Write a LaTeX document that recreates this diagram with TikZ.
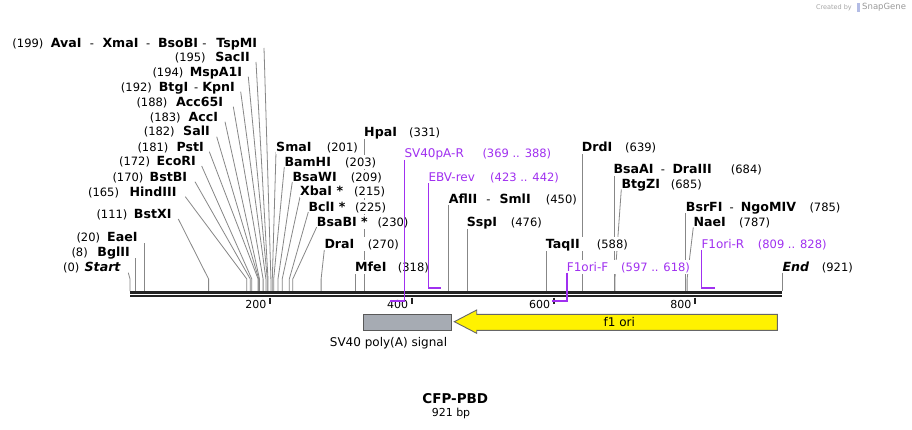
\documentclass[tikz,border=0pt]{standalone}
\usepackage{fontspec}
\setmainfont{DejaVu Sans}
\definecolor{prim}{RGB}{160,48,240}
\definecolor{cline}{RGB}{135,135,135}
\definecolor{featgray}{RGB}{166,171,179}
\definecolor{bardark}{RGB}{34,34,34}
\newcommand\enz[1]{{\fontsize{12.6}{15}\selectfont\bfseries #1}}
\newcommand\enzi[1]{{\fontsize{12.6}{15}\selectfont\bfseries\itshape #1}}
\newcommand\bpn[1]{{\fontsize{11.5}{13}\selectfont #1}}
\newcommand\prm[1]{{\fontsize{12}{14}\selectfont #1}}
% box of given width, left aligned / right aligned
\newcommand\bl[2]{\makebox[#1pt][l]{#2}}
\newcommand\br[2]{\makebox[#1pt][r]{#2}}
% a name followed by a dash, in a box of given width
\newcommand\nd[2]{\makebox[#1pt][l]{\enz{#2}\hspace{3pt}\hfill\bpn{-}\hspace{3pt}\hfill}}
\tikzset{
  lbl/.style={fill=white, inner xsep=0pt, inner ysep=0.5pt, text height=11pt, text depth=2.2pt},
  plbl/.style={lbl, text=prim},
  cut/.style={draw=cline, line width=0.8pt},
  primer/.style={draw=prim, line width=1.6pt},
  seqline/.style={draw=bardark},
  tickmark/.style={draw=bardark, line width=1.8pt},
  ticklbl/.style={font=\fontsize{11}{13}\selectfont, inner sep=0pt, anchor=east},
  feattxt/.style={font=\fontsize{12}{14}\selectfont, inner sep=0pt}
}
\begin{document}
\begin{tikzpicture}[x=1pt,y=-1pt]
\useasboundingbox (0,0) rectangle (912,430);
\fill[white] (0,0) rectangle (912,430);

% ---------- site coordinates on the sequence (top of bar) ----------
\foreach \n/\x in {0/130,8/135.7,20/144.2,111/208.6,165/246.8,170/250.3,172/251.8,181/258.1,182/258.8,183/259.5,188/263.1,192/265.9,194/267.3,195/268.0,199/270.9,201/272.3,203/273.7,209/278.0,215/282.2,225/289.3,230/292.8,270/321.1,318/355.1,331/364.3,450/448.6,476/467,588/546.3,639/582.4,684/614.2,685/614.9,785/685.7,787/687.1,921/782}{
  \coordinate (s\n) at (\x,291);
  \coordinate (k\n) at (\x,279);
}

% ---------- line start coordinates ----------
\coordinate (t199) at (264,48);
\coordinate (t195) at (256,62);
\coordinate (t194) at (248.3,76.7);
\coordinate (t192) at (240.7,91.7);
\coordinate (t188) at (233.3,106.7);
\coordinate (t183) at (225,121.7);
\coordinate (t182) at (216.7,136.7);
\coordinate (t181) at (209.3,151.7);
\coordinate (t172) at (201.7,166);
\coordinate (t170) at (195,181.7);
\coordinate (t165) at (185.3,196.7);
\coordinate (t111) at (178.3,219);
\coordinate (t20) at (144.2,243.3);
\coordinate (t8) at (135.7,258.3);
\coordinate (t0) at (128.3,272.7);
\coordinate (t201) at (276,152);
\coordinate (t203) at (284.3,167);
\coordinate (t209) at (292.3,182);
\coordinate (t215) at (300,197);
\coordinate (t225) at (308.3,212);
\coordinate (t230) at (316.7,227);
\coordinate (t270) at (324.3,250);
\coordinate (t318) at (355.1,272);
\coordinate (t331) at (364.3,138);
\coordinate (t450) at (448.6,205);
\coordinate (t476) at (467,228);
\coordinate (t588) at (546.3,250);
\coordinate (t639) at (582.4,152.7);
\coordinate (t684) at (614.2,175);
\coordinate (t685) at (621.3,189.3);
\coordinate (t785) at (685.7,213);
\coordinate (t787) at (693.3,227.3);
\coordinate (t921) at (782,272.7);

% ---------- enzyme connector lines ----------
\foreach \n in {199,195,194,192,188,183,182,181,172,170,165,111,0,201,203,209,215,225,230,270,685,787}{
  \draw[cut] (t\n) -- (k\n) -- (s\n);
}
\foreach \n in {20,8,318,331,450,476,588,639,684,785,921}{
  \draw[cut] (t\n) -- (s\n);
}

% ---------- sequence bar ----------
\coordinate (barL1) at (130,292.3);
\coordinate (barR1) at (782,292.3);
\coordinate (barL2) at (130,296.4);
\coordinate (barR2) at (782,296.4);
\draw[seqline, line width=2.6pt] (barL1) -- (barR1);
\draw[seqline, line width=2pt] (barL2) -- (barR2);

% ---------- scale ticks ----------
\foreach \v/\x in {200/270,400/411.7,600/553.7,800/695}{
  \coordinate (tk\v a) at (\x,297.5);
  \coordinate (tk\v b) at (\x,304);
  \draw[tickmark] (tk\v a) -- (tk\v b);
  \node[ticklbl] (tl\v) at (\x-3.5,304.5) {\v};
}

% ---------- left labels ----------
\node[lbl, anchor=east] (avai) at (257.3,43.3) {\bl{38.3}{\bpn{(199)}}\nd{51.7}{AvaI}\nd{55.6}{XmaI}\nd{52.4}{BsoBI}\br{46.6}{\enz{TspMI}}};
\node[lbl, anchor=east] (sacii) at (250,57.3) {\bl{38.3}{\bpn{(195)}}\br{36.7}{\enz{SacII}}};
\node[lbl, anchor=east] (mspa) at (242.3,72) {\bl{40}{\bpn{(194)}}\br{49.6}{\enz{MspA1I}}};
\node[lbl, anchor=east] (btgi) at (235,87.3) {\bpn{(192)}\hspace{7pt}\enz{BtgI}\hspace{6pt}\bpn{-}\hspace{4pt}\enz{KpnI}};
\node[lbl, anchor=east] (acc65) at (223.3,101.7) {\bl{39.3}{\bpn{(188)}}\br{47.3}{\enz{Acc65I}}};
\node[lbl, anchor=east] (acci) at (218.3,116.7) {\bl{39.3}{\bpn{(183)}}\br{29}{\enz{AccI}}};
\node[lbl, anchor=east] (sali) at (210,131) {\bl{39.3}{\bpn{(182)}}\br{26.7}{\enz{SalI}}};
\node[lbl, anchor=east] (psti) at (204,146.7) {\bl{39}{\bpn{(181)}}\br{27.3}{\enz{PstI}}};
\node[lbl, anchor=east] (ecori) at (196,161.3) {\bl{38}{\bpn{(172)}}\br{38.7}{\enz{EcoRI}}};
\node[lbl, anchor=east] (bstbi) at (187.3,176.7) {\bl{39}{\bpn{(170)}}\br{35.6}{\enz{BstBI}}};
\node[lbl, anchor=east] (hind) at (176.7,192.3) {\bl{39}{\bpn{(165)}}\br{49.4}{\enz{HindIII}}};
\node[lbl, anchor=east] (bstxi) at (171.7,214) {\bl{38.3}{\bpn{(111)}}\br{36.7}{\enz{BstXI}}};
\node[lbl, anchor=east] (eaei) at (137.7,237.3) {\bl{31.6}{\bpn{(20)}}\br{29.4}{\enz{EaeI}}};
\node[lbl, anchor=east] (bglii) at (130,251.7) {\bl{25}{\bpn{(8)}}\br{33.3}{\enz{BglII}}};
\node[lbl, anchor=east] (startl) at (120.7,266.7) {\bl{25}{\bpn{(0)}}\br{32.4}{\enzi{Start}}};

% ---------- right labels ----------
\node[lbl, anchor=west] (smai) at (276,147.3) {\bl{50.7}{\enz{SmaI}}\bpn{(201)}};
\node[lbl, anchor=west] (bamhi) at (284.3,161.7) {\bl{60.7}{\enz{BamHI}}\bpn{(203)}};
\node[lbl, anchor=west] (bsawi) at (292.3,176.7) {\bl{58.4}{\enz{BsaWI}}\bpn{(209)}};
\node[lbl, anchor=west] (xbai) at (300,191) {\bl{54}{\enz{XbaI *}}\bpn{(215)}};
\node[lbl, anchor=west] (bcli) at (308.3,206.7) {\bl{46.7}{\enz{BclI *}}\bpn{(225)}};
\node[lbl, anchor=west] (bsabi) at (316.7,222) {\bl{60.6}{\enz{BsaBI *}}\bpn{(230)}};
\node[lbl, anchor=west] (drai) at (324.3,244) {\bl{43.4}{\enz{DraI}}\bpn{(270)}};
\node[lbl, anchor=west] (mfei) at (355,266.7) {\bl{42.7}{\enz{MfeI}}\bpn{(318)}};
\node[lbl, anchor=west] (hpai) at (364,132.3) {\bl{45}{\enz{HpaI}}\bpn{(331)}};
\node[lbl, anchor=west] (afl) at (448.7,199) {\nd{50.6}{AflII}\bl{46.4}{\enz{SmlI}}\bpn{(450)}\hspace{8pt}};
\node[lbl, anchor=west] (sspi) at (466.7,222.3) {\bl{44}{\enz{SspI}}\bpn{(476)}};
\node[lbl, anchor=west] (taqii) at (545.7,244) {\bl{51}{\enz{TaqII}}\bpn{(588)}};
\node[lbl, anchor=west] (drdi) at (581.7,146.7) {\bl{43.3}{\enz{DrdI}}\bpn{(639)}};
\node[lbl, anchor=west] (bsaai) at (613.3,169) {\nd{59}{BsaAI}\bl{58.4}{\enz{DraIII}}\bpn{(684)}};
\node[lbl, anchor=west] (btgzi) at (621.3,184) {\bl{49.4}{\enz{BtgZI}}\bpn{(685)}};
\node[lbl, anchor=west] (bsrfi) at (685.7,206.7) {\nd{55}{BsrFI}\bl{68.6}{\enz{NgoMIV}}\bpn{(785)}};
\node[lbl, anchor=west] (naei) at (693.3,221.7) {\bl{45.7}{\enz{NaeI}}\bpn{(787)}};
\node[lbl, anchor=west] (endl) at (782.3,266.7) {\bl{39.4}{\enzi{End}}\bpn{(921)}};

% ---------- primers ----------
\node[plbl, anchor=west] (sv40p) at (404.3,153.3) {\bl{78}{\prm{SV40pA-R}}\bpn{(369 .. 388)}};
\node[plbl, anchor=west] (ebv) at (428.3,176.7) {\bl{61.7}{\prm{EBV-rev}}\bpn{(423 .. 442)}};
\node[plbl, anchor=west] (f1f) at (566.7,266.7) {\bl{54.3}{\prm{F1ori-F}}\bpn{(597 .. 618)}};
\node[plbl, anchor=west] (f1r) at (701.3,244) {\bl{56.4}{\prm{F1ori-R}}\bpn{(809 .. 828)}};
\coordinate (p1a) at (404.3,160);
\coordinate (p1b) at (404.3,301);
\coordinate (p1c) at (390,301);
\coordinate (p2a) at (428.3,183.3);
\coordinate (p2b) at (428.3,288);
\coordinate (p2c) at (441,288);
\coordinate (p3a) at (566.7,272.5);
\coordinate (p3b) at (566.7,301);
\coordinate (p3c) at (551.7,301);
\coordinate (p4a) at (701.3,250);
\coordinate (p4b) at (701.3,288);
\coordinate (p4c) at (715,288);
\draw[primer] (p1a) -- (p1b) -- (p1c);
\draw[primer] (p2a) -- (p2b) -- (p2c);
\draw[primer] (p3a) -- (p3b) -- (p3c);
\draw[primer] (p4a) -- (p4b) -- (p4c);

% ---------- features ----------
\node[draw=black!65, line width=0.9pt, fill=featgray, minimum width=87.4pt, minimum height=16pt, inner sep=0pt, anchor=north west] (sv40f) at (363.3,314.3) {};
\node[feattxt] (sv40t) at (388.5,343.3) {SV40 poly(A) signal};
\draw[draw=black!60, line width=0.9pt, fill=yellow] (454.3,321.7) -- (476.7,310) -- (476.7,314.3) -- (777.3,314.3) -- (777.3,330.3) -- (476.7,330.3) -- (476.7,333.3) -- cycle;
\node[feattxt] (f1ori) at (619.3,321.7) {f1 ori};

% ---------- title ----------
\node[inner sep=0pt, font=\fontsize{13.5}{15}\selectfont\bfseries] (title) at (455.3,399) {CFP-PBD};
\node[inner sep=0pt, font=\fontsize{11}{13}\selectfont] (size) at (451,413.5) {921 bp};

% ---------- watermark ----------
\node[inner sep=0pt, anchor=east, text=black!35, font=\fontsize{6.5}{8}\selectfont] (cby) at (852,7.5) {Created by};
\fill[cyan!35!blue!30] (856.5,3) rectangle (859.5,12);
\node[inner sep=0pt, anchor=west, text=black!40, font=\fontsize{8.5}{10}\selectfont] (sg) at (862,7.5) {SnapGene};
\end{tikzpicture}
\end{document}
